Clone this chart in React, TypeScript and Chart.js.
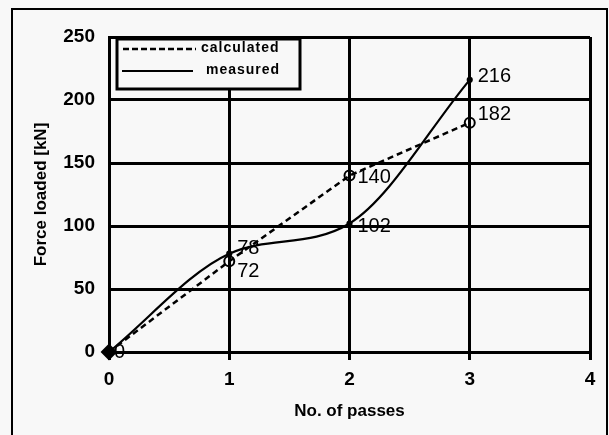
import React, { useEffect, useRef } from "react";
import { Chart, registerables } from "chart.js";

Chart.register(...registerables);

const passes = [0, 1, 2, 3];
const calculated = [0, 72, 140, 182];
const measured = [0, 78, 102, 216];
const xTicks = [0, 1, 2, 3, 4];
const yTicks = [0, 50, 100, 150, 200, 250];
const legendLabels = ["calculated", "measured"];

const NARROW = "'Liberation Sans Narrow', 'Arial Narrow', 'Liberation Sans', sans-serif";

const framePlugin = {
  id: "frame",
  beforeDraw(chart: any) {
    const { ctx } = chart;
    ctx.save();
    ctx.fillStyle = "#f8f8f8";
    ctx.fillRect(0, 0, chart.width, chart.height);
    ctx.strokeStyle = "#000";
    ctx.lineWidth = 2;
    ctx.strokeRect(12, 9, 595, 440);
    ctx.restore();
  },
};

const labelPlugin = {
  id: "pointLabels",
  afterDatasetsDraw(chart: any) {
    const { ctx } = chart;
    ctx.save();
    ctx.fillStyle = "#000";
    ctx.font = `20px ${NARROW}`;
    ctx.textBaseline = "middle";
    ctx.textAlign = "left";
    const meta0 = chart.getDatasetMeta(0);
    const meta1 = chart.getDatasetMeta(1);
    meta0.data.forEach((pt: any, i: number) => {
      if (i === 0) return;
      const v = calculated[i];
      let dy = 2;
      if (i === 1) dy = 10;
      if (i === 3) dy = -8;
      ctx.fillText(String(v), pt.x + 8, pt.y + dy);
    });
    meta1.data.forEach((pt: any, i: number) => {
      const v = measured[i];
      let dy = 0;
      let dx = 8;
      if (i === 0) dx = 5;
      if (i === 1) dy = -5;
      if (i === 2) dy = 3;
      if (i === 3) dy = -3;
      ctx.fillText(String(v), pt.x + dx, pt.y + dy);
    });
    ctx.restore();
  },
};

const legendPlugin = {
  id: "boxLegend",
  afterDraw(chart: any) {
    const { ctx } = chart;
    ctx.save();
    ctx.fillStyle = "#f8f8f8";
    ctx.fillRect(117, 39, 183, 50);
    ctx.strokeStyle = "#000";
    ctx.lineWidth = 3;
    ctx.strokeRect(117, 39, 183, 50);
    ctx.lineWidth = 2.5;
    ctx.setLineDash([6, 3]);
    ctx.beginPath();
    ctx.moveTo(123, 49);
    ctx.lineTo(196, 49);
    ctx.stroke();
    ctx.setLineDash([]);
    ctx.lineWidth = 2;
    ctx.beginPath();
    ctx.moveTo(122, 71);
    ctx.lineTo(193, 71);
    ctx.stroke();
    ctx.fillStyle = "#000";
    ctx.font = `bold 14px ${NARROW}`;
    try {
      (ctx as any).letterSpacing = "1px";
    } catch (e) {}
    ctx.textBaseline = "middle";
    ctx.textAlign = "left";
    ctx.fillText(legendLabels[0], 201, 48);
    ctx.fillText(legendLabels[1], 206, 70);
    ctx.restore();
  },
};

export default function App() {
  const ref = useRef<HTMLCanvasElement | null>(null);
  useEffect(() => {
    if (!ref.current) return;
    const chart = new Chart(ref.current, {
      type: "line",
      data: {
        labels: passes,
        datasets: [
          {
            label: legendLabels[0],
            data: passes.map((x, i) => ({ x, y: calculated[i] })),
            borderColor: "#000",
            borderWidth: 2.5,
            borderDash: [6, 4],
            tension: 0,
            clip: false,
            pointStyle: (c: any) => (c.dataIndex === 0 ? "rectRot" : "circle"),
            pointRadius: (c: any) => (c.dataIndex === 0 ? 7 : 5),
            pointBackgroundColor: (c: any) => (c.dataIndex === 0 ? "#000" : "rgba(0,0,0,0)"),
            pointBorderColor: "#000",
            pointBorderWidth: 2,
          },
          {
            label: legendLabels[1],
            data: passes.map((x, i) => ({ x, y: measured[i] })),
            borderColor: "#000",
            borderWidth: 2.2,
            clip: false,
            cubicInterpolationMode: "monotone",
            pointStyle: "circle",
            pointRadius: (c: any) => (c.dataIndex === 0 ? 0 : 2),
            pointBackgroundColor: "#000",
            pointBorderColor: "#000",
          },
        ],
      },
      options: {
        responsive: false,
        animation: false,
        devicePixelRatio: 1,
        layout: { padding: { top: 37, right: 19, left: 0, bottom: 0 } },
        plugins: { legend: { display: false }, tooltip: { enabled: false } },
        scales: {
          x: {
            type: "linear",
            min: 0,
            max: 4,
            afterBuildTicks: (s: any) => {
              s.ticks = xTicks.map((v) => ({ value: v }));
            },
            afterFit: (s: any) => {
              s.height = 83;
            },
            border: { color: "#000", width: 3 },
            grid: { color: "#000", lineWidth: 3, tickLength: 8, drawOnChartArea: true },
            ticks: {
              color: "#000",
              padding: 8,
              font: { family: NARROW, size: 19, weight: "bold" },
            },
            title: {
              display: true,
              text: "No. of passes",
              color: "#000",
              padding: { top: 0, bottom: 13 },
              font: { family: NARROW, size: 17, weight: "bold" },
            },
          },
          y: {
            type: "linear",
            min: 0,
            max: 250,
            afterBuildTicks: (s: any) => {
              s.ticks = yTicks.map((v) => ({ value: v }));
            },
            afterFit: (s: any) => {
              s.width = 109;
            },
            border: { color: "#000", width: 3 },
            grid: { color: "#000", lineWidth: 3, tickLength: 0 },
            ticks: {
              color: "#000",
              padding: 14,
              font: { family: NARROW, size: 19, weight: "bold" },
            },
            title: {
              display: true,
              text: "Force loaded [kN]",
              color: "#000",
              padding: { bottom: 0, top: 31 },
              font: { family: NARROW, size: 17, weight: "bold" },
            },
          },
        },
      },
      plugins: [framePlugin, labelPlugin, legendPlugin],
    } as any);
    return () => chart.destroy();
  }, []);
  return (
    <div style={{ position: "fixed", left: 0, top: 0, width: 609, height: 435, background: "#f8f8f8" }}>
      <canvas ref={ref} width={609} height={435} style={{ display: "block" }} />
    </div>
  );
}
